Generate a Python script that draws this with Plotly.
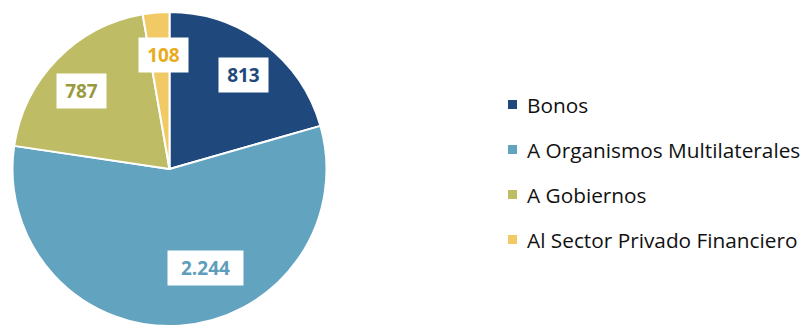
import math
import plotly.graph_objects as go

# Data
categories = ["Bonos", "A Organismos Multilaterales", "A Gobiernos", "Al Sector Privado Financiero"]
values = [813, 2244, 787, 108]

# Styling
slice_colors = ["#1F497D", "#62A3BF", "#BEBD65", "#F1CA66"]
label_colors = ["#1F497D", "#5E9DBB", "#9A9A3E", "#E8AC1C"]

W, H = 804, 326
# pie geometry in pixels
CX, CY, R = 169.5, 169.0, 157.0

def fmt(v):
    return f"{v:,}".replace(",", ".")

fig = go.Figure()
fig.add_trace(go.Pie(
    labels=categories,
    values=values,
    sort=False,
    direction="clockwise",
    rotation=0,
    marker=dict(colors=slice_colors, line=dict(color="white", width=2)),
    textinfo="none",
    hoverinfo="label+value",
    showlegend=False,
    domain=dict(x=[(CX - R) / W, (CX + R) / W], y=[(H - CY - R) / H if CY + R < H else 0, (H - CY + R) / H]),
))

def to_paper(px, py):
    return px / W, 1 - py / H

# value labels placed inside each slice
angle_shift = [1, -16, -3, 2]
radial_frac = [0.76, 0.67, 0.75, 0.73]
total = sum(values)
start = 0.0
for i, v in enumerate(values):
    sweep = 360.0 * v / total
    mid = start + sweep / 2 + angle_shift[i]
    start += sweep
    r = R * radial_frac[i]
    px = CX + r * math.sin(math.radians(mid))
    py = CY - r * math.cos(math.radians(mid))
    x, y = to_paper(px, py)
    txt = fmt(v)
    fig.add_annotation(
        x=x, y=y, xref="paper", yref="paper",
        text=f"<b>{txt}</b>", showarrow=False,
        font=dict(family="Open Sans", size=19, color=label_colors[i]),
        bgcolor="white", borderpad=0,
        width=13 * len(txt) + 10, height=34,
        xanchor="center", yanchor="middle",
    )

# legend
LX, LY0, LDY, SQ = 508, 104.5, 45, 9
for i, name in enumerate(categories):
    py = LY0 + i * LDY
    fig.add_shape(
        type="rect", xref="paper", yref="paper",
        x0=LX / W, x1=(LX + SQ) / W,
        y0=1 - (py + SQ / 2) / H, y1=1 - (py - SQ / 2) / H,
        fillcolor=slice_colors[i], line=dict(width=0),
    )
    x, y = to_paper(LX + SQ + 8, py)
    fig.add_annotation(
        x=x, y=y, xref="paper", yref="paper", text=name, showarrow=False,
        font=dict(family="Open Sans", size=20.8, color="#111111"),
        xanchor="left", yanchor="middle",
    )

fig.update_layout(
    width=W, height=H,
    margin=dict(l=0, r=0, t=0, b=0),
    paper_bgcolor="white", plot_bgcolor="white",
    showlegend=False,
)

fig.write_html("out.html")
